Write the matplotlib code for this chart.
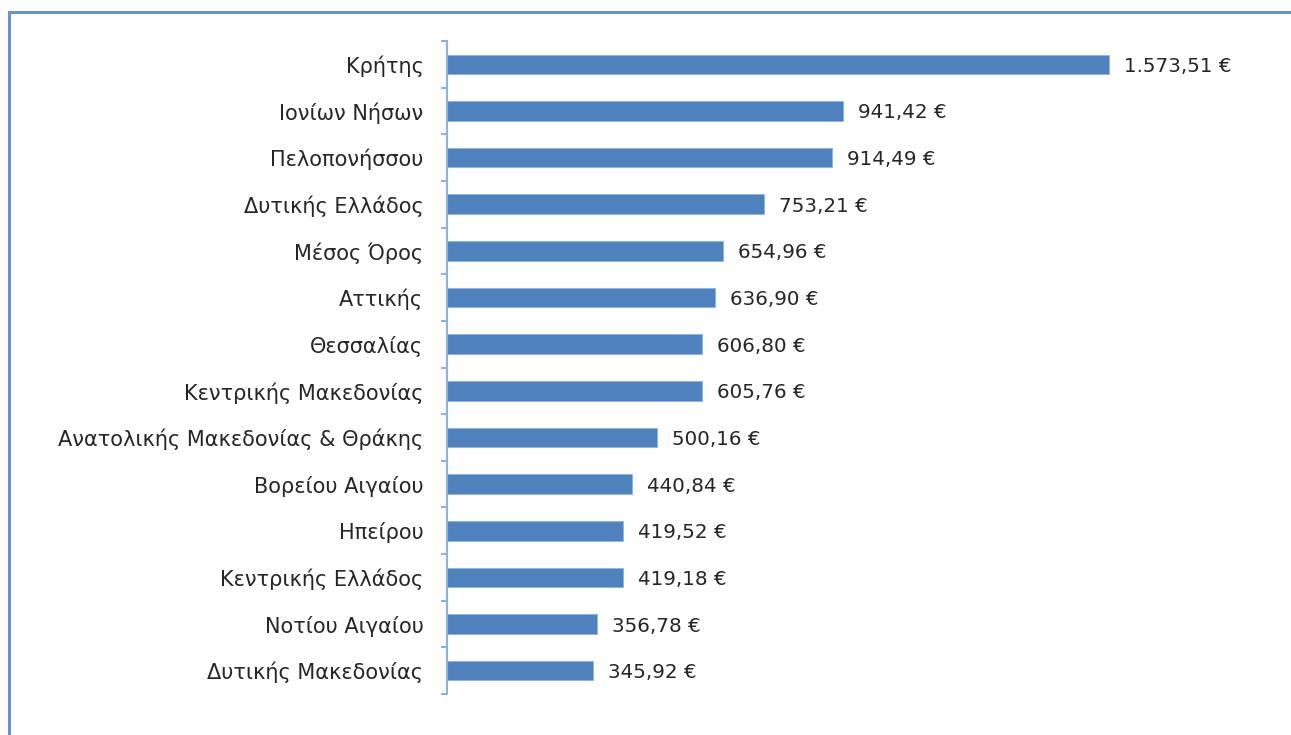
import matplotlib
matplotlib.use("Agg")
import matplotlib.pyplot as plt
from matplotlib.lines import Line2D
import numpy as np

plt.rcParams['font.family'] = ['DejaVu Sans']

regions = ["Κρήτης", "Ιονίων Νήσων", "Πελοπονήσσου", "Δυτικής Ελλάδος", "Μέσος Όρος",
           "Αττικής", "Θεσσαλίας", "Κεντρικής Μακεδονίας", "Ανατολικής Μακεδονίας & Θράκης",
           "Βορείου Αιγαίου", "Ηπείρου", "Κεντρικής Ελλάδος", "Νοτίου Αιγαίου", "Δυτικής Μακεδονίας"]
values = [1573.51, 941.42, 914.49, 753.21, 654.96, 636.90, 606.80, 605.76, 500.16,
          440.84, 419.52, 419.18, 356.78, 345.92]
value_labels = ["1.573,51 €", "941,42 €", "914,49 €", "753,21 €", "654,96 €", "636,90 €",
                "606,80 €", "605,76 €", "500,16 €", "440,84 €", "419,52 €", "419,18 €",
                "356,78 €", "345,92 €"]

W, H = 1291, 735
fig = plt.figure(figsize=(W/100, H/100), dpi=100)
fig.patch.set_facecolor('white')

# outer frame (left and top lines)
frame_col = '#6A93CB'
fig.add_artist(Line2D([9/W, 9/W], [0, 1 - 12/H], color=frame_col, lw=2.2, transform=fig.transFigure))
fig.add_artist(Line2D([9/W, 1], [1 - 12/H, 1 - 12/H], color=frame_col, lw=2.2, transform=fig.transFigure))

x0 = 447
ytop, ybot = 41, 694
ax = fig.add_axes([x0/W, 1 - ybot/H, (W - x0)/W, (ybot - ytop)/H])
n = len(regions)
pos = np.arange(n)
ax.barh(pos, values, height=0.42, color='#4F81BD', edgecolor='#8DB3E2', linewidth=0.6)
ax.set_ylim(n - 0.5, -0.5)
px_per_unit = 662 / 1573.51
ax.set_xlim(0, (W - x0) / px_per_unit)

for p, v, lab in zip(pos, values, value_labels):
    ax.annotate(lab, (v, p), xytext=(15, 0), textcoords='offset pixels',
                va='center_baseline', ha='left', fontsize=14.3, color='#262626', clip_on=False)

ax.set_yticks(pos)
ax.set_yticklabels(regions, fontsize=15, color='#262626')
ax.tick_params(axis='y', which='major', length=0, pad=17)
ax.set_yticks(np.arange(n + 1) - 0.5, minor=True)
ax.tick_params(axis='y', which='minor', length=4.5, width=1.2, color='#7A9FD3', direction='out')
ax.set_xticks([])
for s in ['top', 'right', 'bottom']:
    ax.spines[s].set_visible(False)
ax.spines['left'].set_color('#8DB3E2')
ax.spines['left'].set_linewidth(1.5)
ax.set_facecolor('none')

fig.savefig('out.png', dpi=100)
